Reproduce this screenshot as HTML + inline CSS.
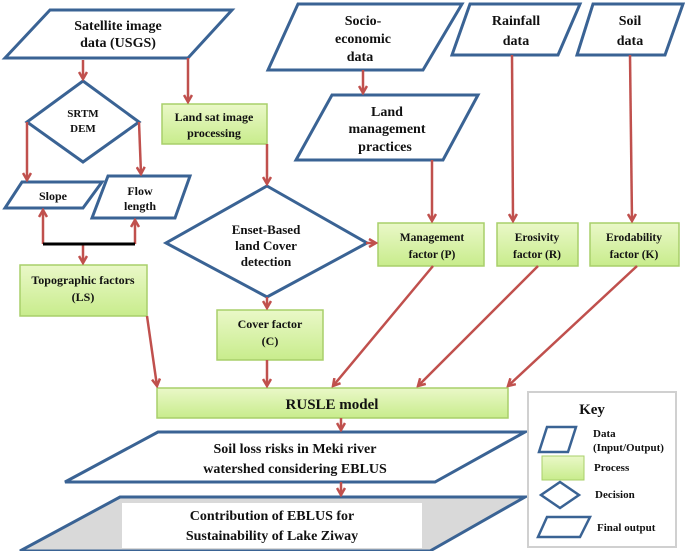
<!DOCTYPE html>
<html><head><meta charset="utf-8"><style>
html,body{margin:0;padding:0;background:#fff;}
svg{display:block;}
text{font-family:"Liberation Serif",serif;font-weight:bold;fill:#111;text-anchor:middle;}
</style></head><body>
<svg width="685" height="551" viewBox="0 0 685 551" xmlns="http://www.w3.org/2000/svg">
<defs>
<marker id="ah" markerWidth="10" markerHeight="10" refX="8" refY="5" orient="auto" markerUnits="userSpaceOnUse">
<path d="M1,1 L8,5 L1,9" fill="none" stroke="#c0504d" stroke-width="2.5"/>
</marker>
<linearGradient id="gr" x1="0" y1="0" x2="0" y2="1">
<stop offset="0" stop-color="#eaf8c8"/><stop offset="1" stop-color="#c8ec8c"/>
</linearGradient>
</defs>
<g fill="none" stroke="#3a6394" stroke-width="3">
<polygon points="50,10 232,10 188,58 5,58" fill="#fff"/>
<polygon points="83,81 139,122 83,162 27,122" fill="#fff"/>
<polygon points="22,182 102,182 83,208 5,208" fill="#fff"/>
<polygon points="108,176 190,176 175,218 92,218" fill="#fff"/>
<polygon points="267,186 367,243 267,297 166,243" fill="#fff"/>
<polygon points="298,4 462,4 423,70 268,70" fill="#fff"/>
<polygon points="332,95 478,95 443,160 296,160" fill="#fff"/>
<polygon points="470,4 580,4 558,55 452,55" fill="#fff"/>
<polygon points="593,4 683,4 665,55 577,55" fill="#fff"/>
<polygon points="158,432 525,432 435,482 65,482" fill="#fff"/>
<polygon points="120,497 525,497 430,551 20,551" fill="#d9d9d9"/>
</g>
<rect x="122" y="503" width="300" height="45" fill="#fff"/>
<g fill="url(#gr)" stroke="#a8cf6a" stroke-width="1.5">
<rect x="162" y="104" width="105" height="40"/>
<rect x="20" y="265" width="127" height="51"/>
<rect x="217" y="310" width="106" height="50"/>
<rect x="378" y="223" width="106" height="43"/>
<rect x="497" y="223" width="81" height="43"/>
<rect x="590" y="223" width="89" height="43"/>
<rect x="157" y="388" width="351" height="30"/>
</g>
<g stroke="#c0504d" stroke-width="2.5" fill="none" marker-end="url(#ah)">
<line x1="83" y1="60" x2="83" y2="79"/>
<line x1="188" y1="58" x2="188" y2="102"/>
<line x1="27" y1="122" x2="27" y2="180"/>
<line x1="139" y1="122" x2="141" y2="174"/>
<line x1="43" y1="244" x2="43" y2="210"/>
<line x1="135" y1="244" x2="135" y2="220"/>
<line x1="83" y1="244" x2="83" y2="263"/>
<line x1="267" y1="144" x2="267" y2="184"/>
<line x1="267" y1="297" x2="267" y2="308"/>
<line x1="366" y1="243" x2="376" y2="243"/>
<line x1="363" y1="70" x2="363" y2="93"/>
<line x1="432" y1="160" x2="432" y2="221"/>
<line x1="512" y1="55" x2="513" y2="221"/>
<line x1="630" y1="55" x2="632" y2="221"/>
<line x1="147" y1="316" x2="157" y2="386"/>
<line x1="267" y1="360" x2="267" y2="386"/>
<line x1="433" y1="266" x2="333" y2="386"/>
<line x1="538" y1="266" x2="418" y2="386"/>
<line x1="637" y1="266" x2="508" y2="386"/>
<line x1="341" y1="418" x2="341" y2="430"/>
<line x1="341" y1="482" x2="341" y2="495"/>
</g>
<line x1="43" y1="244" x2="135" y2="244" stroke="#000" stroke-width="3"/>
<text x="118" y="30" font-size="14">Satellite image</text>
<text x="118" y="47" font-size="14">data (USGS)</text>
<text x="83" y="117" font-size="11">SRTM</text>
<text x="83" y="132" font-size="11">DEM</text>
<text x="53" y="200" font-size="12">Slope</text>
<text x="140" y="195" font-size="12">Flow</text>
<text x="140" y="210" font-size="12">length</text>
<text x="214" y="121" font-size="12">Land sat image</text>
<text x="214" y="137" font-size="12">processing</text>
<text x="266" y="234" font-size="13">Enset-Based</text>
<text x="266" y="250" font-size="13">land Cover</text>
<text x="266" y="266" font-size="13">detection</text>
<text x="83" y="284" font-size="12">Topographic factors</text>
<text x="83" y="301" font-size="12">(LS)</text>
<text x="270" y="328" font-size="12">Cover factor</text>
<text x="270" y="345" font-size="12">(C)</text>
<text x="363" y="25" font-size="14">Socio-</text>
<text x="363" y="43" font-size="14">economic</text>
<text x="360" y="61" font-size="14">data</text>
<text x="387" y="116" font-size="14">Land</text>
<text x="387" y="133" font-size="14">management</text>
<text x="385" y="151" font-size="14">practices</text>
<text x="516" y="25" font-size="14">Rainfall</text>
<text x="516" y="45" font-size="14">data</text>
<text x="630" y="25" font-size="14">Soil</text>
<text x="630" y="45" font-size="14">data</text>
<text x="432" y="241" font-size="11.5">Management</text>
<text x="432" y="258" font-size="11.5">factor (P)</text>
<text x="537" y="241" font-size="11.5">Erosivity</text>
<text x="537" y="258" font-size="11.5">factor (R)</text>
<text x="634" y="241" font-size="11.5">Erodability</text>
<text x="634" y="258" font-size="11.5">factor (K)</text>
<text x="332" y="409" font-size="15">RUSLE model</text>
<text x="295" y="453" font-size="14">Soil loss risks in Meki river</text>
<text x="295" y="473" font-size="14">watershed considering EBLUS</text>
<text x="272" y="520" font-size="14">Contribution of EBLUS for</text>
<text x="272" y="540" font-size="14">Sustainability of Lake Ziway</text>
<rect x="528" y="392" width="148" height="155" fill="#fff" stroke="#d0d0d0" stroke-width="2"/>
<text x="592" y="414" font-size="15">Key</text>
<polygon points="547,427 576,427 568,452 539,452" fill="#fff" stroke="#3a6394" stroke-width="2.5"/>
<text x="593" y="437" font-size="11" style="text-anchor:start">Data</text>
<text x="593" y="451" font-size="11" style="text-anchor:start">(Input/Output)</text>
<rect x="542" y="456" width="42" height="24" fill="url(#gr)" stroke="#a8cf6a"/>
<text x="594" y="471" font-size="11" style="text-anchor:start">Process</text>
<polygon points="560,482 579,495 560,508 541,495" fill="#fff" stroke="#3a6394" stroke-width="2.5"/>
<text x="595" y="498" font-size="11" style="text-anchor:start">Decision</text>
<polygon points="547,517 590,517 580,537 538,537" fill="#fff" stroke="#3a6394" stroke-width="2.5"/>
<text x="597" y="531" font-size="11" style="text-anchor:start">Final output</text>
</svg>
</body></html>
